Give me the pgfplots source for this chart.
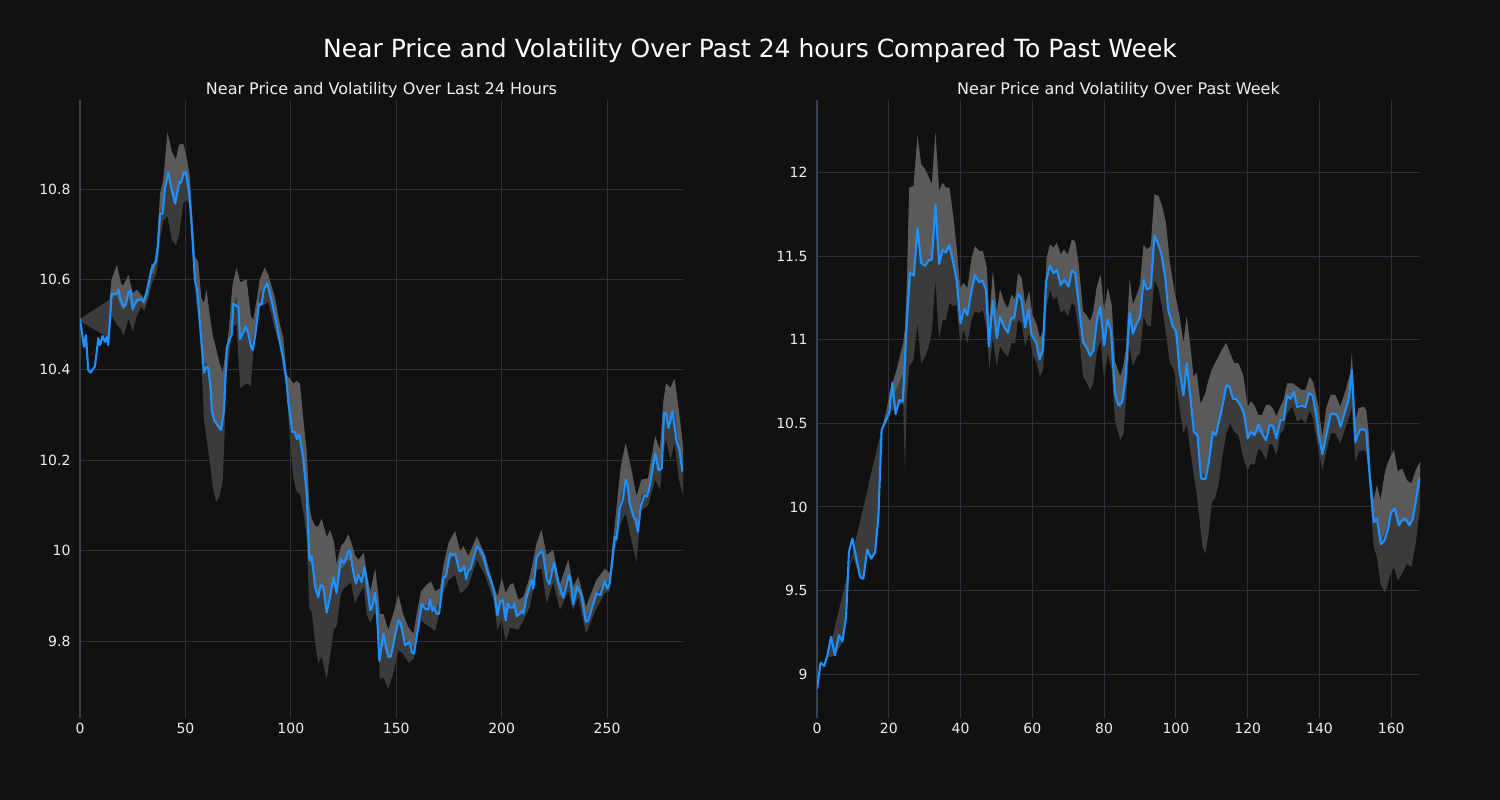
\documentclass[border=0pt]{standalone}
\usepackage{pgfplots}
\pgfplotsset{compat=1.18}
\usepackage{pgfplotstable}
\usepgfplotslibrary{fillbetween}
\usepackage{fontspec}
\setmainfont{DejaVu Sans}
\definecolor{bg}{HTML}{111111}
\definecolor{gridc}{HTML}{283240}
\definecolor{spinec}{HTML}{36424F}
\definecolor{txt}{HTML}{EEEEEE}
\definecolor{pline}{HTML}{1E90FF}
\definecolor{darkf}{HTML}{3B3B3B}
\definecolor{lightf}{HTML}{5A5A5A}
\pagecolor{bg}

\pgfplotstableread{
x y
0 10.512
1.9 10.451
2.8 10.477
3.9 10.40
5 10.394
7.1 10.408
8.7 10.47
9.5 10.455
10.7 10.475
11.8 10.462
12.6 10.473
13.4 10.455
15 10.568
17.4 10.569
18.2 10.578
19 10.558
20.6 10.54
21.7 10.544
23 10.572
24.1 10.575
24.9 10.535
26.2 10.548
27.3 10.555
28.9 10.557
30.1 10.551
31.4 10.569
32.7 10.595
33.8 10.621
34.9 10.632
36.1 10.64
36.9 10.673
38 10.745
39.2 10.746
40.3 10.801
41.9 10.837
43.2 10.805
45.1 10.768
47.1 10.816
47.9 10.814
49.3 10.838
50.3 10.837
51.8 10.79
52.9 10.724
54.5 10.599
55.6 10.577
56.9 10.503
57.7 10.459
58.8 10.394
59.8 10.406
60.9 10.404
62 10.356
62.5 10.311
63.6 10.289
64.8 10.281
66.9 10.267
68.3 10.311
69.6 10.448
71.1 10.47
71.9 10.477
72.7 10.547
74.3 10.541
75.1 10.54
75.9 10.468
77.2 10.481
78.6 10.496
79.8 10.481
80.9 10.455
81.9 10.444
83 10.473
84.9 10.547
86.1 10.544
87.2 10.578
88.8 10.591
90.4 10.562
92.4 10.521
94.8 10.462
96.7 10.418
97.9 10.377
98.8 10.33
100.7 10.263
102 10.262
102.8 10.247
104 10.256
105.9 10.204
107.5 10.127
108.8 9.979
109.9 9.988
111.5 9.92
113 9.897
114.1 9.924
115.4 9.92
117 9.863
118.6 9.898
120.2 9.941
121.7 9.907
123.6 9.981
124.9 9.973
126.2 9.983
127.3 10.0
128.1 10.0
129.6 9.953
130.9 9.927
132 9.947
133.6 9.931
134.9 9.964
136 9.931
137.6 9.869
138.4 9.872
139.9 9.907
140.7 9.876
142 9.756
143.9 9.817
146.2 9.766
147.4 9.766
151 9.846
152.1 9.84
154.2 9.791
156.3 9.798
157.4 9.776
158.4 9.772
162.1 9.883
163.7 9.872
165.2 9.87
166 9.892
167.2 9.867
167.9 9.875
169.2 9.86
170.3 9.861
172.3 9.939
173.6 9.944
175.5 9.994
177.1 9.99
178 9.993
179.9 9.955
181 9.956
182.2 9.966
183.1 9.937
184.2 9.956
185.3 9.961
188.2 10.01
189.7 10.003
191.3 9.99
193.2 9.953
194.8 9.935
196.4 9.909
198 9.857
199.2 9.887
200.5 9.891
201.9 9.846
202.8 9.883
204 9.874
205.5 9.874
206 9.884
207.1 9.855
208.7 9.861
209.6 9.868
210.3 9.861
211.8 9.898
214.2 9.935
215 9.916
216.6 9.986
218.9 9.999
219.7 9.993
221.3 9.939
222.6 9.926
224.8 9.974
226.8 9.931
229.2 9.896
231.9 9.946
232.7 9.935
233.9 9.881
235.8 9.921
237.8 9.902
239.9 9.843
241 9.846
244.9 9.905
246.8 9.902
248.9 9.933
250.1 9.916
251.2 9.928
252.5 9.979
253.6 10.031
254.4 10.025
256 10.094
257.5 10.114
258.8 10.157
259.6 10.149
260.7 10.105
262.6 10.074
263.5 10.068
264.6 10.042
265.9 10.097
267.8 10.123
268.9 10.12
270.1 10.14
272.8 10.215
274.4 10.178
275.9 10.182
277 10.304
278 10.304
279.1 10.271
281 10.308
283 10.241
284.3 10.223
285.7 10.175
}\priceL

\pgfplotstableread{
x U L M
0 10.512 10.508 10.512
14 10.555 10.47 10.555
15 10.60 10.52 10.56
17.5 10.632 10.50 10.566
19.5 10.59 10.49 10.54
20.6 10.587 10.475 10.531
23 10.61 10.514 10.562
25 10.569 10.485 10.527
27 10.577 10.52 10.549
29 10.566 10.54 10.553
30.5 10.555 10.53 10.543
32.5 10.58 10.56 10.57
34 10.636 10.59 10.613
35 10.63 10.60 10.615
36.5 10.673 10.62 10.647
38 10.79 10.69 10.74
39.5 10.82 10.73 10.775
41.5 10.925 10.74 10.833
43.5 10.883 10.69 10.787
45.5 10.865 10.675 10.77
47 10.898 10.70 10.799
49 10.90 10.77 10.835
50.5 10.87 10.775 10.823
52 10.83 10.765 10.798
54.5 10.65 10.58 10.615
56 10.64 10.52 10.58
57.5 10.56 10.43 10.495
58.8 10.547 10.289 10.418
60 10.577 10.25 10.414
61.5 10.52 10.20 10.36
63 10.475 10.14 10.308
64.6 10.446 10.108 10.277
66.1 10.416 10.12 10.268
67.7 10.394 10.155 10.275
68.5 10.42 10.244 10.332
69.1 10.438 10.37 10.404
70.7 10.49 10.43 10.46
72.3 10.586 10.495 10.541
74.2 10.625 10.50 10.563
76 10.594 10.36 10.477
79 10.60 10.37 10.485
81 10.52 10.365 10.443
82.2 10.51 10.44 10.475
84 10.56 10.495 10.528
85.3 10.60 10.54 10.57
87.6 10.626 10.545 10.586
89.3 10.61 10.55 10.58
92.4 10.56 10.49 10.525
94.8 10.50 10.45 10.475
96.4 10.47 10.40 10.435
97.9 10.39 10.36 10.375
99.6 10.38 10.245 10.313
101.2 10.37 10.16 10.265
102.8 10.375 10.13 10.253
104.3 10.37 10.126 10.248
105.9 10.29 10.086 10.188
107.5 10.22 10.03 10.125
108.8 10.10 9.87 9.985
109.9 10.07 9.866 9.968
111.5 10.055 9.796 9.926
113 10.053 9.752 9.903
114.6 10.07 9.767 9.919
117 10.03 9.715 9.873
118.6 10.045 9.767 9.906
120.4 10.02 9.826 9.923
121.7 9.97 9.833 9.902
123.8 10.01 9.907 9.959
125.5 10.02 9.918 9.969
127.3 10.036 9.925 9.981
128.5 10.02 9.93 9.975
130.4 9.99 9.883 9.937
132 9.98 9.90 9.94
134.6 9.995 9.92 9.958
136 9.95 9.86 9.905
137.7 9.91 9.84 9.875
140 9.96 9.865 9.913
141.5 9.90 9.80 9.85
142.2 9.86 9.715 9.788
143.9 9.86 9.72 9.79
146.2 9.825 9.695 9.76
148.6 9.86 9.73 9.795
151 9.902 9.78 9.841
153.2 9.86 9.772 9.816
155.8 9.83 9.753 9.792
158.2 9.816 9.76 9.788
159.7 9.86 9.80 9.83
161.8 9.91 9.846 9.878
164.5 9.925 9.835 9.88
166.5 9.932 9.83 9.881
168.4 9.91 9.822 9.866
170.8 9.917 9.87 9.894
172.5 9.97 9.91 9.94
174.8 10.017 9.935 9.976
177.9 10.043 9.946 9.995
180.3 9.999 9.906 9.953
181.8 10.01 9.91 9.96
184.2 9.988 9.922 9.955
188.2 10.032 9.98 10.006
192.1 9.99 9.946 9.968
196.1 9.924 9.891 9.908
198 9.898 9.825 9.862
200 9.939 9.85 9.895
201.9 9.906 9.80 9.853
204 9.925 9.83 9.878
205.5 9.928 9.828 9.878
207.9 9.891 9.825 9.858
210.3 9.898 9.846 9.872
213.4 9.943 9.876 9.91
216.6 10.017 9.957 9.987
218.9 10.046 9.96 10.003
221.3 9.99 9.883 9.937
224.4 10.002 9.93 9.966
227.6 9.924 9.869 9.897
231.6 9.98 9.91 9.945
233.9 9.92 9.869 9.895
236.3 9.943 9.898 9.921
240 9.876 9.817 9.847
244.9 9.935 9.872 9.904
248.9 9.96 9.906 9.933
251.2 9.95 9.91 9.93
253.6 10.054 10.0 10.027
256.5 10.186 10.06 10.123
258.8 10.238 10.083 10.161
261.5 10.18 10.024 10.102
263.9 10.12 9.975 10.048
266.3 10.157 10.09 10.124
269.4 10.16 10.10 10.13
272.8 10.253 10.157 10.205
275.1 10.223 10.135 10.179
276.7 10.33 10.22 10.275
278 10.37 10.245 10.308
280 10.36 10.20 10.28
282 10.38 10.238 10.309
284 10.31 10.16 10.235
286 10.23 10.12 10.175
}\bandL

\pgfplotstableread{
x y
0 8.91
1 9.068
2 9.048
2.9 9.112
3.9 9.222
5 9.112
6.1 9.232
7.1 9.196
8.1 9.341
8.9 9.731
9.85 9.81
10.9 9.70
12 9.58
12.9 9.57
14 9.745
15.1 9.69
16.2 9.73
17.1 9.94
18 10.46
19 10.51
20.1 10.56
21 10.743
21.9 10.555
22.95 10.64
23.9 10.63
25 11.098
25.9 11.40
27 11.384
28 11.67
29 11.46
30.1 11.443
31 11.473
32 11.481
33 11.81
34 11.453
35 11.537
35.9 11.523
36.9 11.567
38 11.457
38.9 11.357
40 11.098
41 11.188
41.9 11.148
42.9 11.278
44 11.388
45.2 11.344
46.1 11.354
47.1 11.298
47.9 10.96
49 11.234
50.1 11.01
51 11.138
52.1 11.078
53.2 11.042
54.1 11.128
55 11.138
56 11.274
56.9 11.248
58 11.074
58.9 11.178
59.8 11.028
61.1 10.982
62 10.882
62.9 10.938
63.8 11.348
64.9 11.443
65.9 11.398
66.8 11.418
67.9 11.328
68.9 11.358
70.1 11.318
71 11.414
71.9 11.402
72.9 11.218
74.1 10.988
75 10.958
76.1 10.905
77 10.935
78 11.117
78.9 11.197
80 10.967
80.9 11.12
81.9 11.057
83 10.677
84 10.607
85 10.627
86 10.777
87.1 11.16
88 11.037
89.1 11.097
90 11.137
91 11.357
91.9 11.301
93 11.313
94 11.623
95 11.577
95.9 11.517
97 11.377
97.9 11.177
99 11.087
100.1 11.047
101 10.817
102.1 10.667
103 10.861
104 10.657
105 10.45
106 10.43
107 10.17
108.2 10.166
109.1 10.26
110.3 10.45
111.1 10.43
112.3 10.54
113.3 10.64
114 10.727
114.9 10.721
115.9 10.647
116.8 10.647
117.7 10.617
118.7 10.577
119.3 10.519
120 10.41
120.9 10.45
121.9 10.43
123 10.494
124 10.44
125.1 10.40
126.1 10.49
127 10.484
128 10.41
129.1 10.519
130 10.523
131 10.667
131.9 10.647
132.9 10.687
133.8 10.597
134.9 10.607
136.1 10.597
137 10.68
138.1 10.667
139.3 10.517
139.7 10.44
140.8 10.316
142 10.44
143.1 10.556
144.4 10.556
145 10.544
145.9 10.48
147.2 10.58
148.1 10.64
149 10.817
150 10.39
151.2 10.46
152.1 10.466
153 10.456
154 10.18
155.1 9.91
156 9.93
157.1 9.776
158.1 9.80
159.1 9.87
160 9.97
161 9.99
162.1 9.89
163 9.92
164 9.93
165 9.89
166 9.93
167.9 10.176
}\priceR

\pgfplotstableread{
x U L M
3 9.10 9.10 9.10
5 9.28 9.11 9.28
7 9.46 9.19 9.46
8 9.55 9.30 9.55
9 9.64 9.62 9.64
10 9.73 9.70 9.73
12 9.91 9.58 9.91
13 10.00 9.57 10.00
14 10.09 9.74 10.09
15 10.19 9.69 10.19
16 10.28 9.73 10.28
17 10.37 9.94 10.37
18 10.46 10.46 10.46
19.4 10.58 10.50 10.54
20.2 10.68 10.56 10.62
22.2 10.82 10.60 10.71
24 10.98 10.62 10.80
24.5 11.06 10.20 10.63
25 11.30 10.65 10.975
25.7 11.91 10.84 11.375
26.9 11.92 10.88 11.40
28 12.22 11.10 11.66
29 12.05 10.86 11.455
30.1 12.02 10.90 11.46
31 11.98 10.95 11.465
32 11.93 11.05 11.49
33 12.24 11.36 11.80
34 11.89 11.00 11.445
35 11.94 11.12 11.53
35.9 11.91 11.12 11.515
36.9 11.91 11.22 11.565
38 11.73 11.20 11.465
38.9 11.55 11.21 11.38
39.9 11.31 10.98 11.145
40.8 11.34 11.06 11.20
41.9 11.31 10.98 11.145
43.1 11.49 11.12 11.305
44 11.56 11.17 11.365
45.2 11.53 11.16 11.345
46.2 11.53 11.18 11.355
47.3 11.43 11.06 11.245
48 11.11 10.82 10.965
49 11.41 11.01 11.21
50.1 11.17 10.84 11.005
51 11.30 10.96 11.13
52.2 11.22 10.92 11.07
53.2 11.19 10.90 11.045
54.2 11.27 10.98 11.125
55.2 11.24 10.98 11.11
56 11.40 11.12 11.26
57 11.37 11.10 11.235
58 11.21 10.96 11.085
59.1 11.29 11.04 11.165
60 11.15 10.92 11.035
61.2 11.09 10.86 10.975
62.1 11.01 10.78 10.895
63 11.05 10.82 10.935
64 11.49 11.20 11.345
64.9 11.57 11.30 11.435
65.9 11.55 11.24 11.395
66.8 11.58 11.26 11.42
67.9 11.51 11.16 11.335
68.8 11.54 11.18 11.36
69.9 11.51 11.14 11.325
71 11.60 11.22 11.41
71.9 11.59 11.20 11.395
72.9 11.45 11.05 11.25
74.1 11.17 10.78 10.975
75 11.15 10.75 10.95
76.1 11.11 10.70 10.905
77 11.17 10.74 10.955
77.9 11.31 10.92 11.115
79 11.39 11.00 11.195
80 11.17 10.76 10.965
81 11.31 10.92 11.115
82.1 11.21 10.82 11.015
83 10.87 10.52 10.695
84.5 10.78 10.40 10.59
85.4 10.85 10.44 10.645
86.1 10.95 10.64 10.795
87.1 11.36 10.96 11.16
88 11.21 10.84 11.025
89.1 11.27 10.90 11.085
90 11.33 10.92 11.125
91 11.57 11.14 11.355
91.9 11.54 11.09 11.315
93 11.56 11.08 11.32
94 11.87 11.36 11.615
95.2 11.86 11.30 11.58
96.1 11.80 11.20 11.50
97.2 11.70 11.04 11.37
98.3 11.46 10.86 11.16
99.5 11.30 10.82 11.06
101 11.14 10.60 10.87
102.1 10.98 10.44 10.71
103 11.14 10.50 10.82
104 10.96 10.34 10.65
104.9 10.78 10.20 10.49
105.8 10.80 10.08 10.44
106.8 10.62 9.88 10.25
107.4 10.64 9.76 10.20
108.2 10.68 9.72 10.20
109.1 10.76 9.84 10.30
110 10.82 10.03 10.425
110.9 10.86 10.05 10.455
111.9 10.90 10.14 10.52
112.8 10.94 10.28 10.61
114 10.98 10.44 10.71
115.1 10.92 10.50 10.71
116.2 10.86 10.45 10.655
117.4 10.86 10.43 10.645
118.7 10.79 10.30 10.545
119.3 10.70 10.26 10.48
120 10.60 10.22 10.41
120.9 10.63 10.26 10.445
121.8 10.61 10.25 10.43
123 10.55 10.35 10.45
124 10.55 10.33 10.44
125.1 10.61 10.28 10.445
126.1 10.61 10.38 10.495
127 10.59 10.37 10.48
128 10.54 10.31 10.425
129.1 10.60 10.44 10.52
130 10.64 10.46 10.55
131 10.74 10.56 10.65
132.4 10.74 10.60 10.67
133.8 10.72 10.51 10.615
134.9 10.70 10.53 10.615
136.1 10.70 10.50 10.60
137.3 10.78 10.58 10.68
138.3 10.74 10.52 10.63
139.7 10.60 10.34 10.47
140.8 10.42 10.22 10.32
142 10.60 10.34 10.47
143.1 10.67 10.44 10.555
144.4 10.67 10.44 10.555
145.8 10.60 10.38 10.49
147.3 10.70 10.48 10.59
148.6 10.80 10.56 10.68
149 10.92 10.60 10.76
150 10.52 10.27 10.395
150.9 10.59 10.33 10.46
152.3 10.60 10.34 10.47
153 10.58 10.33 10.455
153.7 10.44 10.20 10.32
154.2 10.20 10.04 10.12
155.1 10.04 9.76 9.90
156 10.13 9.70 9.915
157 10.04 9.54 9.79
158.1 10.19 9.49 9.84
158.8 10.25 9.52 9.885
159.7 10.30 9.60 9.95
160.7 10.34 9.64 9.99
161.8 10.21 9.56 9.885
163 10.23 9.60 9.915
164.3 10.16 9.66 9.91
165.6 10.14 9.64 9.89
166.8 10.22 9.78 10.0
168 10.27 10.00 10.135
}\bandR

\pgfplotsset{
  darkstyle/.style={
    scale only axis,
    width=603pt, height=618pt,
    grid=major,
    major grid style={draw=gridc, line width=1pt},
    axis y line*=left,
    axis x line*=bottom,
    x axis line style={draw=none},
    y axis line style={draw=spinec, line width=1.2pt},
    major tick length=0pt,
    tick style={draw=none},
    tick label style={font=\fontsize{14}{16}\selectfont, text=txt},
    /pgf/number format/assume math mode=true,
    yticklabel style={xshift=-6pt},
    xticklabel style={yshift=-2pt},
  }
}

\begin{document}
\begin{tikzpicture}
\path (0,0) rectangle (1500pt,800pt);

\begin{axis}[darkstyle, at={(80pt,82pt)}, anchor=south west,
  xmin=0, xmax=286, ymin=9.63, ymax=10.997,
  xtick={0,50,100,150,200,250}, ytick={9.8,10,10.2,10.4,10.6,10.8}]
  \addplot[name path=UL, draw=none] table[x=x,y=U]{\bandL};
  \addplot[name path=LL, draw=none] table[x=x,y=L]{\bandL};
  \addplot[name path=ML, draw=none] table[x=x,y=M]{\bandL};
  \addplot[fill=darkf, draw=none] fill between[of=UL and LL];
  \addplot[fill=lightf, draw=none] fill between[of=UL and ML];
  \addplot[pline, line width=2.1pt, line join=round] table[x=x,y=y]{\priceL};
\end{axis}

\begin{axis}[darkstyle, at={(817pt,82pt)}, anchor=south west,
  xmin=0, xmax=168, ymin=8.737, ymax=12.435,
  xtick={0,20,40,60,80,100,120,140,160}, ytick={9,9.5,10,10.5,11,11.5,12}]
  \addplot[name path=UR, draw=none] table[x=x,y=U]{\bandR};
  \addplot[name path=LR, draw=none] table[x=x,y=L]{\bandR};
  \addplot[name path=MR, draw=none] table[x=x,y=M]{\bandR};
  \addplot[fill=darkf, draw=none] fill between[of=UR and LR];
  \addplot[fill=lightf, draw=none] fill between[of=UR and MR];
  \addplot[pline, line width=2.1pt, line join=round] table[x=x,y=y]{\priceR};
\end{axis}

\node[text=white, font=\fontsize{25}{30}\selectfont] at (750pt,749pt) {Near Price and Volatility Over Past 24 hours Compared To Past Week};
\node[text=txt, font=\fontsize{16}{19}\selectfont] at (381.5pt,710pt) {Near Price and Volatility Over Last 24 Hours};
\node[text=txt, font=\fontsize{16}{19}\selectfont] at (1118.5pt,710pt) {Near Price and Volatility Over Past Week};

\pgfresetboundingbox
\path (0,0) rectangle (1500pt,800pt);
\end{tikzpicture}
\end{document}
